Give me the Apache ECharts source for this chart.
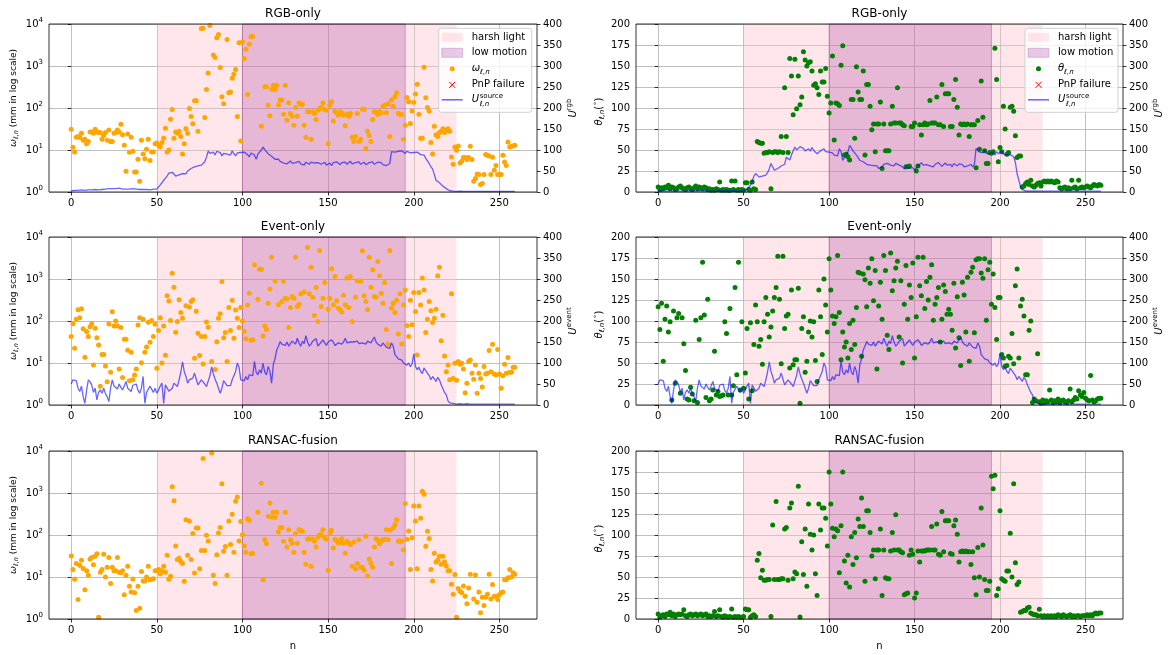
<!DOCTYPE html>
<html><head><meta charset="utf-8">
<script src="https://cdn.jsdelivr.net/npm/echarts@6/dist/echarts.min.js"></script>
<style>html,body{margin:0;padding:0;background:#fff}#c{width:1170px;height:655px}</style>
</head><body><div id="c"></div>
<script>
// ---------------- DATA ----------------
const HARSH_LIGHT = [50, 225];
const LOW_MOTION = [100, 195];
const X_TICKS = [0, 50, 100, 150, 200, 250];
const TITLES = ['RGB-only', 'Event-only', 'RANSAC-fusion'];

// omega_{l,n} (mm), RGB-only
const OMEGA_RGB = [
31,11.6,9,20,21,20,25,17,18,14,
16,27,27,25,31,27,26,26,18,22,
26,17,30,16,16,25,26,30,27,41,
23,13,3.1,24,8.8,20,9.3,3,3,6,
1.8,17,8,6.2,10.4,18,5.6,9,9,14,
14.7,13,12,15,19,33,9,10,54,92,
19,27,25,28,21,8,14,32,25,97,
63,42,148,148,28,null,7800,7900,59,275,
680,9200,null,1820,1600,4700,5600,920,185,126,
null,4300,230,240,510,640,830,63,3600,16.4,
3800,1500,2500,210,3300,5000,5100,null,null,null,
null,37,null,320,320,117,65,280,350,275,
350,120,155,155,71,350,51,133,74,64,
39,103,64,134,123,123,39,20,81,81,
18,81,74,53,88,97,103,133,92,88,
14,117,140,49,84,77,67,81,77,67,
38,71,64,74,20,16,21,74,16,18,
94,94,10.8,28,22,16,53,81,80,70,
81,77,110,117,77,127,21,155,110,185,
230,74,70,70,18,39,178,140,43,85,
138,215,370,71,19,19,930,175,103,85,
15,8,37,23,21,26,28,32,26,30,
32,28,6.8,4.6,11.8,9.8,12.5,4.9,5.4,6.6,
6.6,5.9,6.6,12.3,5.9,1.8,2.1,2.7,2.6,1.5,
1.6,2.6,7.8,7.5,7.2,2.6,6.7,3.3,4.3,2.6,
2.6,2.6,7.5,5.2,4.3,15.5,11.8,12.3,12.5,13];

// theta_{l,n} (deg), RGB-only
const THETA_RGB = [
6,3,5,4,6,5,8,4,6,5,
3,4,6,7,5,4,3,5,6,4,
3,5,7,4,6,5,4,6,5,3,
4,2,3,2,4,3,12,2,3,2,
3,2,2,13,3,13,2,3,2,3,
2,11,11,3,2,12,4,3,60,59,
58,58,46,47,47,48,4,47,48,48,
47,48,66,47,124,66,47,159,138,92,
158,99,138,104,113,167,157,150,154,155,
144,127,129,124,116,144,131,131,147,114,
94,106,162,62,106,105,103,151,174,44,
45,42,38,110,110,64,149,119,110,110,
144,44,128,128,102,74,81,48,81,81,
107,28,81,49,49,49,81,102,82,82,
124,82,82,80,79,30,30,31,78,78,
82,25,31,80,68,80,82,80,81,109,
82,82,82,113,80,80,128,78,117,117,
117,78,78,110,134,101,68,81,80,81,
80,81,66,80,80,80,29,85,51,132,
89,49,34,34,47,46,48,171,134,36,
53,48,102,75,45,47,101,102,96,67,
41,43,43,6,7,10,12,9,14,7,
6,8,10,11,7,12,13,12,13,12,
13,12,11,13,12,5,4,5,6,4,
5,4,14,5,6,4,14,5,6,5,
6,7,6,5,7,9,8,7,9,8];

// U^rgb (left panel)
const U_RGB_OMEGA = [
3,4,4,3,4,4,5,4,4,5,
5,4,5,5,6,5,5,6,6,7,
7,8,8,7,8,9,8,8,9,8,
7,8,7,6,7,7,8,6,7,6,
6,7,6,5,6,6,5,6,7,6,
7,11,17,22,28,33,38,45,42,47,
44,38,36,41,38,44,46,43,50,52,
56,54,60,57,62,58,64,68,72,83,
98,92,90,95,88,97,99,94,86,92,
95,90,93,88,98,91,86,93,89,94,
90,95,98,89,84,93,96,88,78,90,
93,100,107,101,96,91,89,85,82,78,
75,78,73,70,69,72,67,70,74,68,
66,70,68,73,67,69,64,71,68,66,
71,67,69,65,70,72,66,68,71,64,
66,69,63,70,67,72,68,65,70,67,
71,66,69,73,67,64,70,68,72,66,
69,71,65,68,70,67,72,66,69,71,
67,70,65,68,63,66,68,96,99,95,
99,97,94,98,96,92,97,95,93,96,
94,98,95,92,89,86,88,80,76,68,
60,55,42,28,24,22,18,14,11,8,
5,3,2,2,1.5,1.5,1.5,2,1.5,1.5,
1.5,1.5,1.5,1.5,1.5,1.5,1.5,1.5,1.5,1.5,
1.5,1.5,1.5,1.5,1.5,1.5,1.5,1.5,1.5,1.5,
1.5,1.5,1.5,1.5,1.5,1.5,1.5,1.5,1.5,1.5];

// U^rgb (right panel)
const U_RGB_THETA = [
2,2,3,2,2,3,2,2,2,3,
2,2,2,3,2,2,2,3,2,2,
3,2,2,2,3,2,2,2,3,2,
2,3,2,2,2,2,3,2,2,2,
3,2,2,2,3,2,2,3,2,2,
3,4,6,10,16,24,38,44,40,36,
35,38,34,40,46,55,68,60,52,55,
56,58,62,60,66,83,80,76,88,98,
107,100,104,108,111,104,98,101,103,97,
106,99,95,91,94,98,99,103,96,92,
95,99,93,88,91,86,103,97,75,82,
83,95,111,105,98,93,88,82,75,72,
72,68,66,70,64,60,63,59,62,56,
56,60,66,63,68,70,64,66,62,68,
68,64,62,60,55,58,62,56,60,58,
52,56,62,66,70,64,60,65,68,62,
64,60,66,63,70,67,61,65,69,64,
63,66,60,68,64,62,67,63,65,60,
64,62,58,66,60,66,104,107,95,98,
94,100,92,96,90,95,93,88,96,91,
95,97,90,92,88,92,89,86,84,70,
44,28,13,6,2,2,2,2,2,2,
2,2,2,2,2,2,2,2,2,2,
2,2,2,2,2,2,2,2,2,2,
2,2,2,2,2,2,2,2,2,2,
2,2,2,2,2,2,2,2,2,2];

// omega_{l,n} (mm), Event-only
const OMEGA_EVENT = [
43,86,22.5,110,185,120,195,65,13.7,56,
43,73,86,9,67,40,27,2.8,16,16,
8.5,3.6,85,6,165,76,100,76,7.2,70,
4.5,37,37,20,3.8,18,4,5.2,7.2,80,
120,10.2,110,18,24,94,31,103,43,84,
7.5,59,120,10,76,15.3,400,300,103,1370,
640,54,97,320,160,117,null,230,null,215,
290,320,13,170,51,15,43,9.5,43,95,
71,null,10.8,null,7,32,117,148,870,40,
53,10.8,210,59,310,39,183,117,70,210,
100,56,38,240,460,35,36,2170,null,330,
1700,1700,44,76,63,265,575,3300,null,900,
null,245,null,290,890,350,335,70,210,385,
350,3300,220,250,445,null,490,null,5600,445,
1900,370,135,630,97,4800,220,350,830,null,
190,350,1750,245,1150,305,200,185,163,410,
245,1050,210,1150,97,null,370,900,null,900,
4700,400,290,185,3300,640,1650,385,370,2600,
1200,460,265,830,63,28.5,4800,200,265,160,
310,49,445,28.5,240,550,78,43,310,81,
480,168,15.5,480,240,1050,550,53,110,290,
175,92,117,190,1200,1900,34,138,14.7,6.2,
9,4,445,4.3,9.8,3.9,10.8,9.3,9.8,7.2,
1.97,3.3,10.8,11.8,5.7,4.1,9,1.9,5.7,4.3,
2.7,8.2,5.5,5.7,19.8,6.2,28,5.5,5.2,21,
5.5,2.5,5,9.3,5.7,13.5,6,6,7.9,7.9];

// theta_{l,n} (deg), Event-only
const THETA_EVENT = [
117,90,121,52,102,118,87,99,6,112,
26,104,109,14,104,73,41,7,6,21,
13,5,101,3,78,104,170,107,9,126,
5,7,18,64,12,16,10,11,12,99,
85,12,115,12,23,140,36,170,18,99,
20,38,91,7,98,17,72,119,99,70,
78,48.5,99,128,108,81,93,112,128,140,
177,126,49,177,91,106,108,44,137,48,
54,54,139,2,91,105,39,52,87,100,
81,99,53,28,137,105,60,150,119,87,
174,137,106,97,105,178,110,54,87,69,
75,56,97,66,101,72,116,158,157,58,
156,149,117,163,145,174,124,160,43,118,
146,102,178,160,83,66,181,136,148,163,
171,81,148,50,120,166,102,143,128,169,
56,105,176,142,130,176,115,147,125,152,
167,101,120,128,140,75,102,143,135,108,
114,108,89,145,68,129,80,47,146,131,
87,152,52,158,164,86,173,174,174,157,
151,174,101,161,170,120,156,116,78,128,
128,60,56,46,47,58,56,85,49,142,
162,56,118,126,106,36,36,89,100,3,
7,5,61,4,2,6,3,5,4,18,
6,3,5,4,7,3,5,6,4,3,
5,19,4,6,9,7,17,12,10,15,
8,6,5,35,6,4,5,7,8,8];

// U^event (both panels)
const U_EVENT = [
50,60,62,58,40,32,45,20,4,35,
60,55,48,30,40,12,30,36,28,40,
27,20,8,40,60,45,44,38,50,42,
36,45,56,40,38,32,47,45,50,35,
28,40,68,4,30,32,45,44,30,40,
28,36,45,52,4,48,46,33,32,40,
52,48,44,60,78,103,80,68,52,60,
56,64,76,62,48,48,60,58,50,44,
40,70,91,74,62,52,48,28,40,58,
52,46,48,46,60,64,80,100,90,60,
62,58,68,60,72,76,70,104,78,72,
84,76,100,78,72,92,80,52,96,110,
131,140,151,145,148,142,150,140,138,152,
150,145,159,148,140,152,146,165,150,140,
145,152,150,158,140,138,150,155,148,142,
150,147,155,150,142,138,148,152,145,150,
159,148,145,150,146,150,148,152,146,150,
148,150,145,152,150,148,152,162,150,145,
147,140,148,152,138,140,135,148,140,120,
115,110,108,107,100,98,95,100,91,98,
122,92,84,90,80,75,88,82,76,70,
60,68,62,56,66,60,48,44,30,24,
10,5,4,4,3,2,2,3,2,2,
2,3,2,2,3,2,2,2,3,2,
2,2,3,2,2,2,3,2,2,2,
3,2,2,2,3,2,2,2,3,2];

// omega_{l,n} (mm), RANSAC-fusion
const OMEGA_FUSION = [
31.6,15,8.8,21,2.9,19,25,16,5,14,
11,27,29,19.6,31,36,1.1,13,15,35,
10,17,29,7,17,14,14,29,13,12.7,
14,3.8,11,18,6,4.4,9,4.2,1.6,6,
1.8,13.6,8,8,10,18,8.6,8.8,9.1,14,
14,15,12,14,18,13,33,8.8,10.4,1400,
650,55,26,28,23.5,21,7.9,230,33,215,
26,108,12.4,147,147,15.8,43,6600,43,98,
72,null,9000,11,7,34,112,150,1660,41,
53,11,215,59,310,39,640,800,72,210,
101,55,39,245,225,36,37,null,null,350,
null,1700,8.6,77,62,280,575,270,350,260,
350,118,150,150,71,350,52,133,77,64,
39,107,64,136,125,125,39,20,80,80,
18,80,72,52,90,101,101,133,86,79,
14.4,113,130,49,79,72,64,75,81,64,
37,71,64,59,18,68,15.8,21,77,17,
17,14.4,93,10.6,27,21,17,52,81,75,
62,71,77,79,133,77,130,21,147,179,
230,72,71,72,44,560,79,125,15,86,
490,215,15.8,490,250,1100,930,54,122,82,
15,8,37,22.7,25,31,20,31,22.7,18.3,
14,14,6.7,3.9,11.4,1.1,5.3,4.6,4.2,6.1,
3.5,2.3,5.5,11.6,null,3.0,11.1,2.5,4.4,1.4,
3.3,2.1,3.3,3.9,11.6,3.0,6.6,3.5,3.5,2.9,
3.8,4.2,4.4,8.6,8.6,9.6,15,10,12.7,11.6];

// theta_{l,n} (deg), RANSAC-fusion
const THETA_FUSION = [
6,2,4,5,3,6,5,8,4,6,
3,5,6,5,6,11,4,3,5,6,
4,5,6,4,5,6,4,5,6,3,
4,3,4,9,3,4,11,3,2,4,
3,2,3,12,2,3,2,3,2,2,
3,12,11,11,2,4,5,3,70,78,
49,58,46,46,47,47,3,112,47,140,
47,47,48,48,107,109,46,132,138,48,
56,54,158,2.4,92,53,107,39,137,101,
82,100,54,28,137,106,132,132,120,87,
175,137,108,98,107,105,55,111,175,69,
43,76,38,98,65,103,73,119,110,144,
110,45,129,129,103,75,82,48,82,82,
107,28,82,49,48,48,81,103,82,124,
82,82,80,79,29,30,31,76,82,77,
25,31,81,68,81,81,81,82,82,82,
110,82,82,113,77,76,128,80,117,117,
117,78,77,111,118,101,68,80,81,80,
81,80,80,65,80,49,29,85,50,132,
88,47,34,34,45,170,155,171,28,36,
129,48,46,45,57,57,102,50,161,67,
41,44,8,9,10,10,13,14,7,6,
5,5,4,11.5,4,3,4,3,4,3,
4,3,4,3,5,4,3,5,4,3,
4,5,3,4,3,4,4,3,4,4,
4,5,4,5,4,6,7,6,7,7];

// ---------------- LAYOUT / STYLE ----------------
const FONT = 'DejaVu Sans';
const COLS = [{left: 49, width: 488}, {left: 636, width: 487}];
const ROW_TOPS = [24, 237, 451];
const PLOT_H = 168;
const X_MIN = -12.95, X_MAX = 271.95;
const ORANGE = '#ffa500', GREEN = '#008000';
const LINE_COLOR = 'rgba(0,0,255,0.6)';
const PINK = 'rgba(255,192,203,0.4)';
const PURPLE = 'rgba(128,0,128,0.2)';
const GRID_LINE = {color: '#b0b0b0', width: 0.8};
const TICK = {show: true, length: 3.5, lineStyle: {color: '#000', width: 0.8}};

const RICH = {
  it: {fontFamily: FONT, fontSize: 10, fontStyle: 'italic', lineHeight: 14, color: '#000'},
  n: {fontFamily: FONT, fontSize: 10, lineHeight: 14, color: '#000'},
  sub: {fontFamily: FONT, fontSize: 7, fontStyle: 'italic', lineHeight: 8, verticalAlign: 'bottom', color: '#000'},
  sup: {fontFamily: FONT, fontSize: 7, lineHeight: 8, verticalAlign: 'top', color: '#000'},
  b: {fontFamily: FONT, fontSize: 10, lineHeight: 14, color: '#000'},
  e: {fontFamily: FONT, fontSize: 7, lineHeight: 8, verticalAlign: 'top', color: '#000'}
};
const RICH_OMEGA_LABEL = {
  it: {fontFamily: FONT, fontSize: 9.5, fontStyle: 'italic', lineHeight: 13, color: '#000'},
  n: {fontFamily: FONT, fontSize: 9, lineHeight: 13, color: '#000'},
  sub: {fontFamily: FONT, fontSize: 6.5, fontStyle: 'italic', lineHeight: 7, verticalAlign: 'bottom', color: '#000'}
};

const PANELS = [
  {row: 0, col: 0, kind: 'omega', data: OMEGA_RGB, u: U_RGB_OMEGA, uName: 'rgb'},
  {row: 0, col: 1, kind: 'theta', data: THETA_RGB, u: U_RGB_THETA, uName: 'rgb'},
  {row: 1, col: 0, kind: 'omega', data: OMEGA_EVENT, u: U_EVENT, uName: 'event'},
  {row: 1, col: 1, kind: 'theta', data: THETA_EVENT, u: U_EVENT, uName: 'event'},
  {row: 2, col: 0, kind: 'omega', data: OMEGA_FUSION, u: null},
  {row: 2, col: 1, kind: 'theta', data: THETA_FUSION, u: null}
];

const option = {
  animation: false,
  backgroundColor: '#fff',
  textStyle: {fontFamily: FONT},
  title: [], grid: [], xAxis: [], yAxis: [], series: [], graphic: []
};

PANELS.forEach((p, i) => {
  const col = COLS[p.col];
  const top = ROW_TOPS[p.row];
  option.grid.push({
    left: col.left, top: top, width: col.width, height: PLOT_H,
    show: true, borderColor: '#000', borderWidth: 0.8, backgroundColor: 'rgba(0,0,0,0)',
    containLabel: false, outerBoundsMode: 'none', z: 10
  });
  option.title.push({
    text: TITLES[p.row], left: col.left + col.width / 2, top: top - 16, textAlign: 'center', padding: 0,
    textStyle: {fontFamily: FONT, fontSize: 12, fontWeight: 'normal', color: '#000'}
  });
  option.xAxis.push({
    gridIndex: i, type: 'value', min: X_MIN, max: X_MAX,
    axisLine: {show: false},
    axisTick: Object.assign({customValues: X_TICKS}, TICK),
    axisLabel: {customValues: X_TICKS, fontFamily: FONT, fontSize: 10, color: '#000', margin: 6},
    splitLine: {show: true, lineStyle: GRID_LINE},
    name: p.row === 2 ? 'n' : '', nameLocation: 'middle', nameGap: 22,
    nameTextStyle: {fontFamily: FONT, fontSize: 10, color: '#000'}
  });
  const yi = option.yAxis.length;
  if (p.kind === 'omega') {
    option.yAxis.push({
      gridIndex: i, type: 'log', logBase: 10, min: 1, max: 10000, position: 'left',
      axisLine: {show: false}, axisTick: TICK,
      axisLabel: {margin: 6, formatter: v => '{b|10}{e|' + Math.round(Math.log10(v)) + '}', rich: RICH},
      splitLine: {show: true, lineStyle: GRID_LINE},
      name: '{it|ω}{sub|ℓ,n}{n| (mm in log scale)}', nameLocation: 'middle', nameRotate: 90, nameGap: 29,
      nameTextStyle: {rich: RICH_OMEGA_LABEL, padding: [0, 0, 0, 20]}
    });
  } else {
    option.yAxis.push({
      gridIndex: i, type: 'value', min: 0, max: 200, interval: 25, position: 'left',
      axisLine: {show: false}, axisTick: TICK,
      axisLabel: {margin: 6, fontFamily: FONT, fontSize: 10, color: '#000'},
      splitLine: {show: true, lineStyle: GRID_LINE},
      name: '{it|θ}{sub|ℓ,n}{n|(}{sup|∘}{n|)}', nameLocation: 'middle', nameRotate: 90, nameGap: 30,
      nameTextStyle: {rich: RICH, padding: [0, 7, 0, 0]}
    });
  }
  // shaded condition spans
  option.series.push({
    type: 'line', xAxisIndex: i, yAxisIndex: yi, data: [], silent: true, z: 1,
    markArea: {
      silent: true, label: {show: false},
      data: [
        [{xAxis: HARSH_LIGHT[0], itemStyle: {color: PINK}}, {xAxis: HARSH_LIGHT[1]}],
        [{xAxis: LOW_MOTION[0], itemStyle: {color: PURPLE, borderColor: 'rgba(128,0,128,0.3)', borderWidth: 1}}, {xAxis: LOW_MOTION[1]}]
      ]
    }
  });
  option.series.push({
    type: 'scatter', xAxisIndex: i, yAxisIndex: yi, z: 3, symbolSize: 5, clip: true,
    itemStyle: {color: p.kind === 'omega' ? ORANGE : GREEN, opacity: 1},
    data: p.data.map((v, k) => [k, v]).filter(d => d[1] !== null)
  });
  if (p.u) {
    const ui = option.yAxis.length;
    option.yAxis.push({
      gridIndex: i, type: 'value', min: 0, max: 400, interval: 50, position: 'right',
      axisLine: {show: false}, axisTick: TICK,
      axisLabel: {margin: 6, fontFamily: FONT, fontSize: 10, color: '#000'},
      splitLine: {show: false},
      name: '{it|U}{sup|' + p.uName + '}', nameLocation: 'middle', nameRotate: 90, nameGap: 29,
      nameTextStyle: {rich: RICH}
    });
    option.series.push({
      type: 'line', xAxisIndex: i, yAxisIndex: ui, z: 4, symbol: 'none', showSymbol: false,
      lineStyle: {color: LINE_COLOR, width: 1.3}, silent: true,
      data: p.u.map((v, k) => [k, v])
    });
  }
});

// legends (top row)
function legendGroup(L, T, symName, symColor) {
  const Z = 100;
  const txt = (x, y, text) => ({type: 'text', x: x, y: y, z: Z,
    style: {text: text, fontFamily: FONT, fontSize: 10, fill: '#000', verticalAlign: 'middle', align: 'left'}});
  return {
    type: 'group', x: L, y: T, z: Z,
    children: [
      {type: 'rect', z: Z, shape: {x: 0, y: 0, width: 93, height: 84, r: 2.5},
        style: {fill: 'rgba(255,255,255,0.8)', stroke: '#d0d0d0', lineWidth: 1}},
      {type: 'rect', z: Z, shape: {x: 3, y: 4.5, width: 21, height: 9}, style: {fill: PINK}},
      {type: 'rect', z: Z, shape: {x: 3, y: 20, width: 21, height: 9}, style: {fill: PURPLE, stroke: PURPLE, lineWidth: 1}},
      {type: 'circle', z: Z, shape: {cx: 13.5, cy: 40.5, r: 2.5}, style: {fill: symColor}},
      {type: 'line', z: Z, shape: {x1: 10.5, y1: 53.5, x2: 16.5, y2: 59.5}, style: {stroke: '#ff0000', lineWidth: 1}},
      {type: 'line', z: Z, shape: {x1: 10.5, y1: 59.5, x2: 16.5, y2: 53.5}, style: {stroke: '#ff0000', lineWidth: 1}},
      {type: 'line', z: Z, shape: {x1: 3, y1: 71.5, x2: 24, y2: 71.5}, style: {stroke: LINE_COLOR, lineWidth: 1.5}},
      txt(33, 9, 'harsh light'),
      txt(33, 24.5, 'low motion'),
      {type: 'text', x: 33, y: 40.5, z: Z, style: {text: '{it|' + symName + '}{sub|ℓ,n}', rich: RICH, verticalAlign: 'middle', align: 'left'}},
      txt(33, 56.5, 'PnP failure'),
      {type: 'text', x: 33, y: 71.5, z: Z, style: {text: 'U', fontFamily: FONT, fontSize: 10, fontStyle: 'italic', fill: '#000', verticalAlign: 'middle'}},
      {type: 'text', x: 41, y: 67.5, z: Z, style: {text: 'source', fontFamily: FONT, fontSize: 7, fill: '#000', verticalAlign: 'middle'}},
      {type: 'text', x: 41, y: 75.5, z: Z, style: {text: 'ℓ,n', fontFamily: FONT, fontSize: 7, fontStyle: 'italic', fill: '#000', verticalAlign: 'middle'}}
    ]
  };
}
option.graphic.push(legendGroup(438.7, 28.3, 'ω', ORANGE));
option.graphic.push(legendGroup(1025, 28.3, 'θ', GREEN));

const chart = echarts.init(document.getElementById('c'), null, {renderer: 'canvas'});
chart.setOption(option);
</script>
</body></html>
